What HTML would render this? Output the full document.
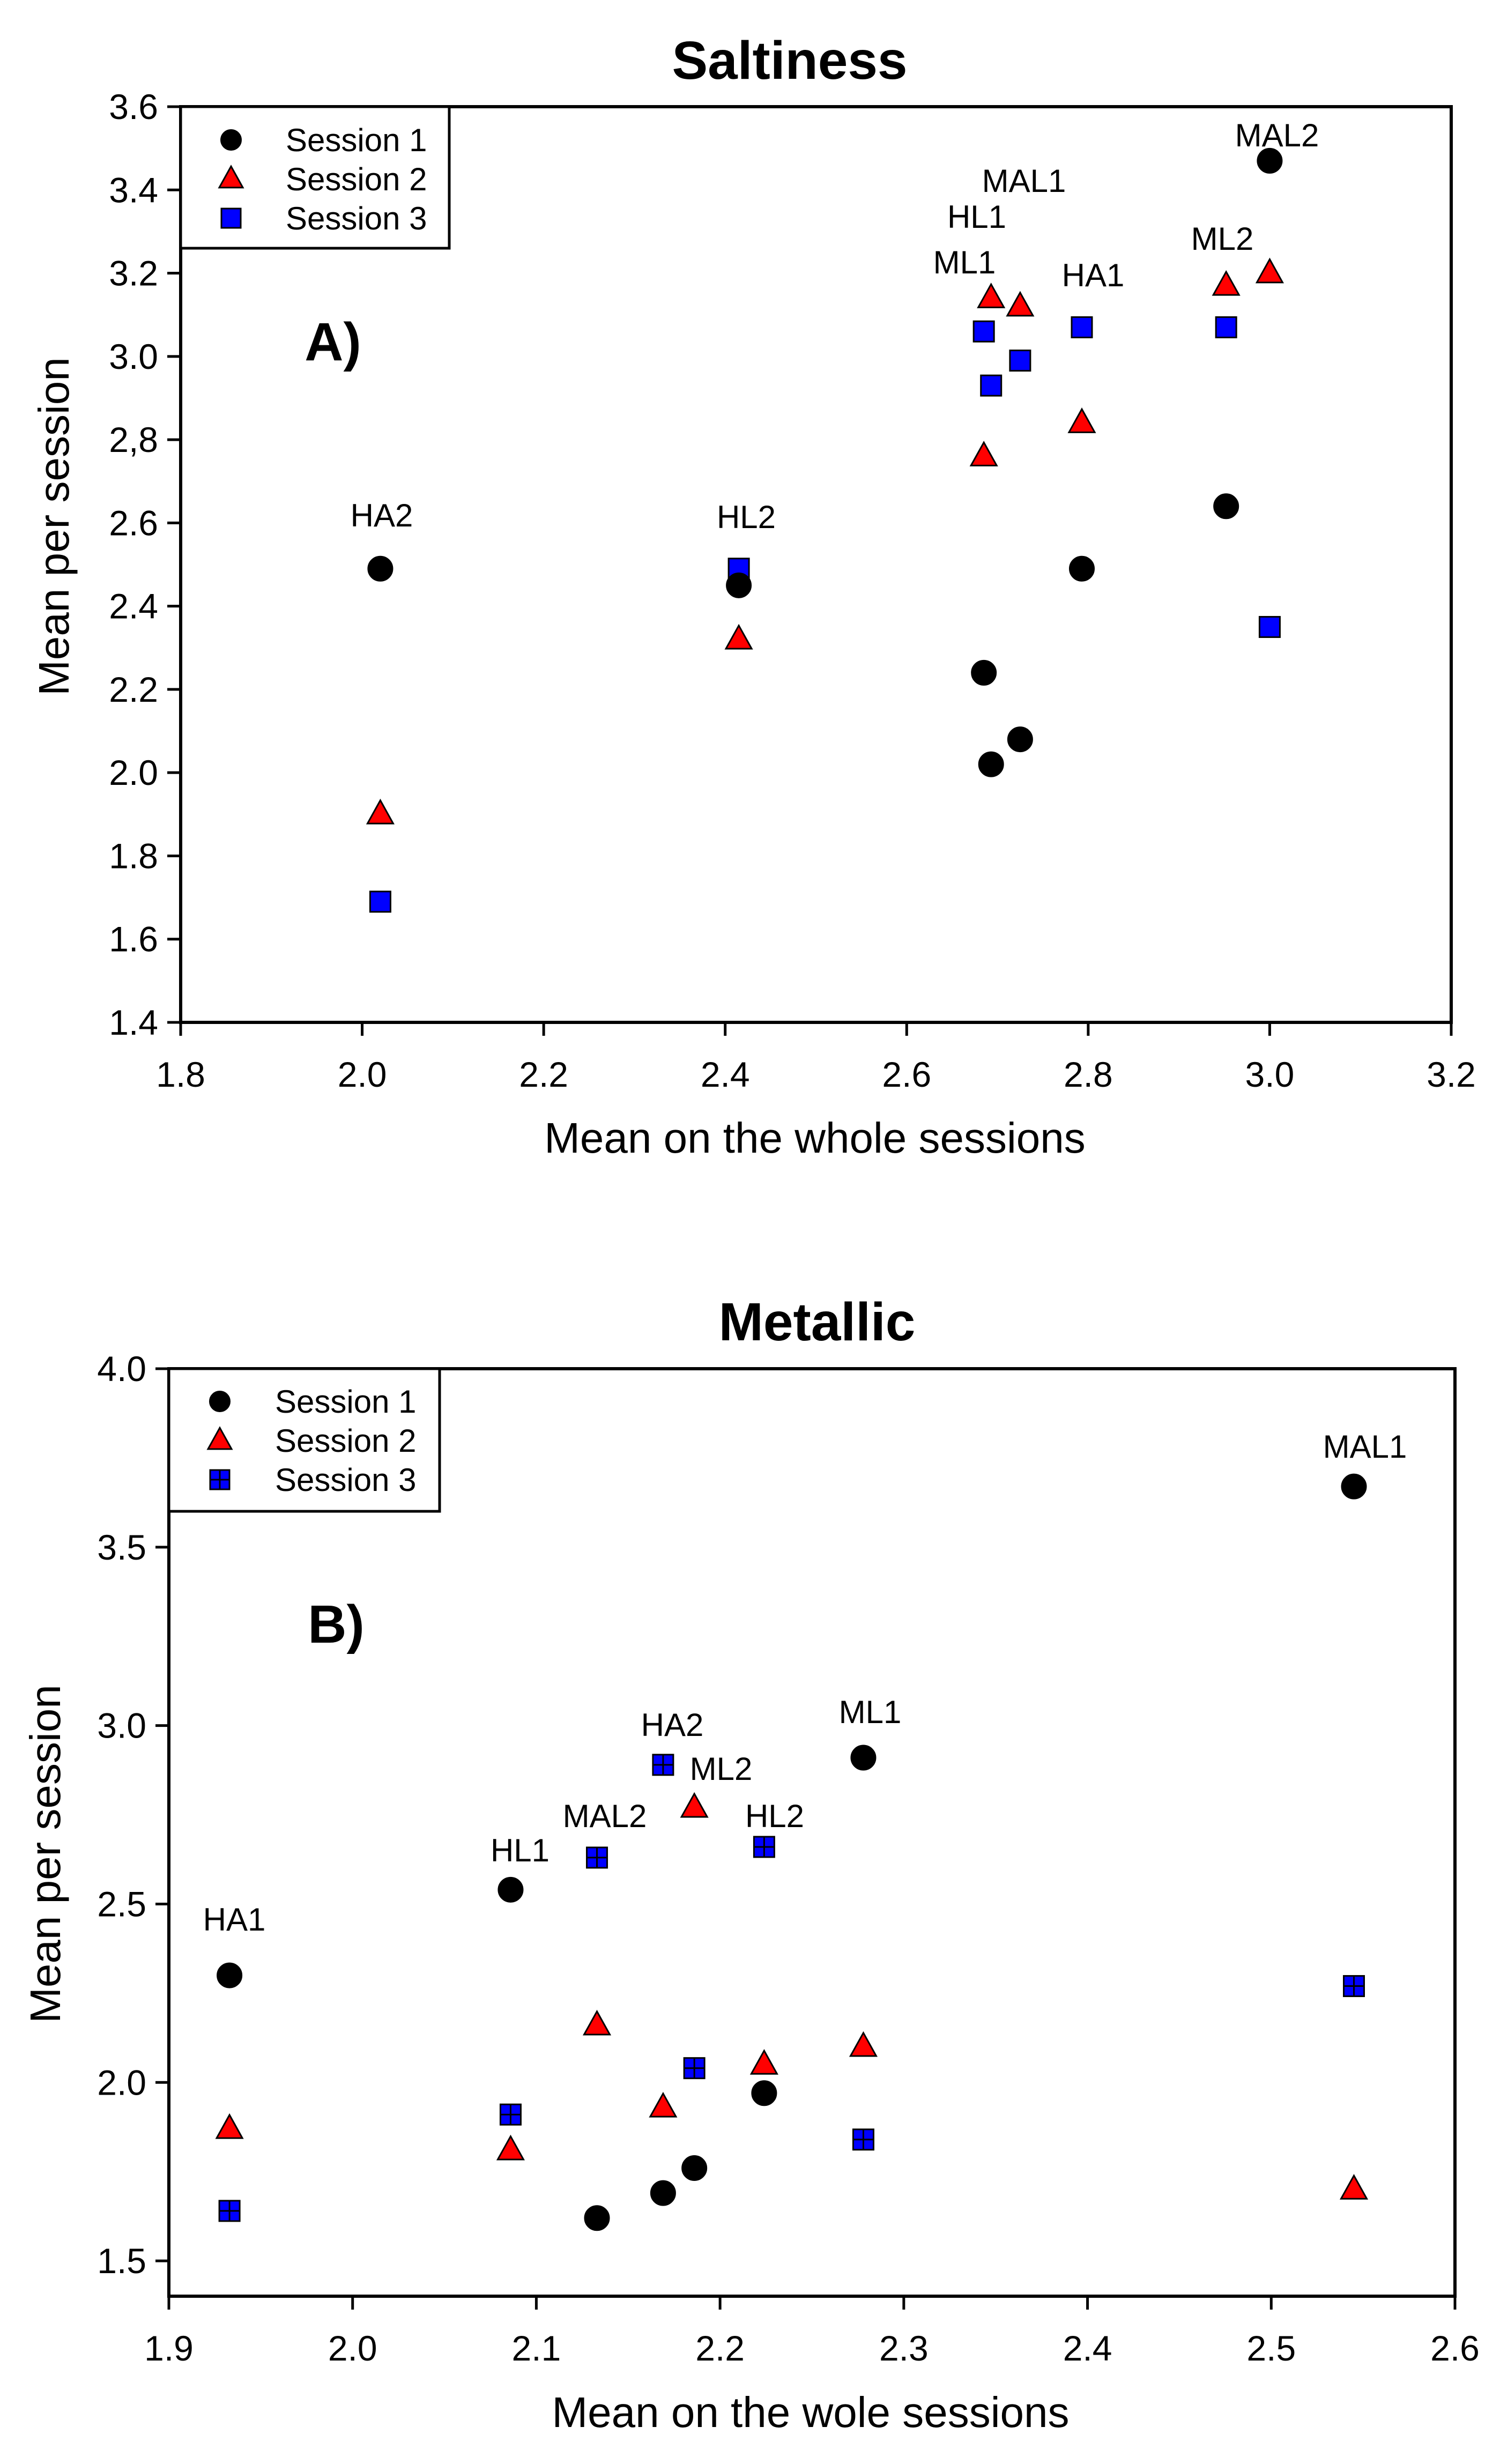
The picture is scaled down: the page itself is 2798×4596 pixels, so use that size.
<!DOCTYPE html>
<html><head><meta charset="utf-8">
<style>
html,body{margin:0;padding:0;background:#fff;}
svg{display:block;font-family:"Liberation Sans",Arial,sans-serif;}
</style></head>
<body>
<svg id="fig" width="2798" height="4596" viewBox="0 0 2798 4596" xmlns="http://www.w3.org/2000/svg">
<rect width="2798" height="4596" fill="#fff"/>
<g id="chartA"></g>
<g id="chartB"></g>
</svg>
<script>
// ---- Saltiness (A) data ----
const aProducts = ["HA2","HL2","ML1","HL1","MAL1","HA1","ML2","MAL2"];
const aMeanX = [2.02,2.415,2.685,2.693,2.725,2.793,2.952,3.0];
const aSession1 = [2.49,2.45,2.24,2.02,2.08,2.49,2.64,3.47];
const aSession2 = [1.90,2.32,2.76,3.14,3.12,2.84,3.17,3.20];
const aSession3 = [1.69,2.49,3.06,2.93,2.99,3.07,3.07,2.35];
const aXTicks = ["1.8","2.0","2.2","2.4","2.6","2.8","3.0","3.2"];
const aYTicks = ["1.4","1.6","1.8","2.0","2.2","2.4","2.6","2,8","3.0","3.2","3.4","3.6"];
// ---- Metallic (B) data ----
const bProducts = ["HA1","HL1","MAL2","HA2","ML2","HL2","ML1","MAL1"];
const bMeanX = [1.933,2.086,2.133,2.169,2.186,2.224,2.278,2.545];
const bSession1 = [2.30,2.54,1.62,1.69,1.76,1.97,2.91,3.67];
const bSession2 = [1.87,1.81,2.16,1.93,2.77,2.05,2.10,1.70];
const bSession3 = [1.64,1.91,2.63,2.89,2.04,2.66,1.84,2.27];
const bXTicks = ["1.9","2.0","2.1","2.2","2.3","2.4","2.5","2.6"];
const bYTicks = ["1.5","2.0","2.5","3.0","3.5","4.0"];

const NS="http://www.w3.org/2000/svg";
function mk(parent,tag,attrs,text){
  const e=document.createElementNS(NS,tag);
  for(const k in attrs) e.setAttribute(k,attrs[k]);
  if(text!==undefined) e.textContent=text;
  parent.appendChild(e);
  return e;
}
function circle(g,cx,cy,r){
  const e=mk(g,"circle",{cx:cx,cy:cy,r:r,fill:"#000",stroke:"#000","stroke-width":2});
  
  
  return e;
}
function tri(g,cx,cy,s){
  const h=s*0.9;
  const e=mk(g,"polygon",{points:`${cx},${cy-h*0.6} ${cx-s/2},${cy+h*0.4} ${cx+s/2},${cy+h*0.4}`,fill:"#f00",stroke:"#000","stroke-width":3});
  
  
  return e;
}
function sq(g,cx,cy,s,grid){
  const e=mk(g,"rect",{x:cx-s/2,y:cy-s/2,width:s,height:s,fill:"#00f",stroke:"#000","stroke-width":3});
  
  
  if(grid){
    const l1=mk(g,"line",{x1:cx,y1:cy-s/2,x2:cx,y2:cy+s/2,stroke:"#000","stroke-width":3});
    
    
    const l2=mk(g,"line",{x1:cx-s/2,y1:cy,x2:cx+s/2,y2:cy,stroke:"#000","stroke-width":3});
    
    
  }
  return e;
}

function drawChart(cfg){
  const g=document.getElementById(cfg.id);
  const X=v=>cfg.L+(v-cfg.xmin)/(cfg.xmax-cfg.xmin)*(cfg.R-cfg.L);
  const Y=v=>cfg.B-(v-cfg.ymin)/(cfg.ymax-cfg.ymin)*(cfg.B-cfg.T);
  const fr=mk(g,"rect",{x:cfg.L,y:cfg.T,width:cfg.R-cfg.L,height:cfg.B-cfg.T,fill:"none",stroke:"#000","stroke-width":6});
  
  
  cfg.xt.forEach(t=>{
    const v=parseFloat(t.replace(",",".")), x=X(v);
    const l=mk(g,"line",{x1:x,y1:cfg.B,x2:x,y2:cfg.B+25,stroke:"#000","stroke-width":5});
    
    
    const tx=mk(g,"text",{x:x,y:cfg.B+120,"font-size":66,"text-anchor":"middle",fill:"#000"},t);
    
    
  });
  cfg.yt.forEach(t=>{
    const v=parseFloat(t.replace(",",".")), y=Y(v);
    const l=mk(g,"line",{x1:cfg.L-25,y1:y,x2:cfg.L,y2:y,stroke:"#000","stroke-width":5});
    
    
    const tx=mk(g,"text",{x:cfg.L-42,y:y+23,"font-size":66,"text-anchor":"end",fill:"#000"},t);
    
    
  });
  for(let i=0;i<cfg.mx.length;i++){
    const x=X(cfg.mx[i]);
    sq(g,x,Y(cfg.s3[i]),38,cfg.grid);
    tri(g,x,Y(cfg.s2[i]),48);
    circle(g,x,Y(cfg.s1[i]),23);
  }
  cfg.labels.forEach(lb=>{
    const t=mk(g,"text",{x:lb[1],y:lb[2]+21,"font-size":60,"text-anchor":"middle",fill:"#000"},lb[0]);
    
    
  });
  const lg=mk(g,"g",{});
  
  
  const lr=mk(lg,"rect",{x:cfg.leg.x,y:cfg.leg.y,width:cfg.leg.w,height:cfg.leg.h,fill:"#fff",stroke:"#000","stroke-width":5});
  
  
  const names=["Session  1","Session  2","Session  3"];
  cfg.leg.rows.forEach((ry,i)=>{
    if(i===0) circle(lg,cfg.leg.sx,ry,19);
    if(i===1) tri(lg,cfg.leg.sx,ry,44);
    if(i===2) sq(lg,cfg.leg.sx,ry,36,cfg.grid);
    const t=mk(lg,"text",{x:cfg.leg.tx,y:ry+21,"font-size":60,fill:"#000","xml:space":"preserve"},names[i]);
    
    
  });
  const tt=mk(g,"text",{x:cfg.title[1],y:cfg.title[2],"font-size":100,"font-weight":"bold","text-anchor":"middle",fill:"#000"},cfg.title[0]);
  
  
  const pl=mk(g,"text",{x:cfg.panel[1],y:cfg.panel[2],"font-size":100,"font-weight":"bold","text-anchor":"middle",fill:"#000"},cfg.panel[0]);
  
  
  const xt=mk(g,"text",{x:cfg.xtitle[1],y:cfg.xtitle[2],"font-size":80,"text-anchor":"middle",fill:"#000"},cfg.xtitle[0]);
  
  
  const yt=mk(g,"text",{x:0,y:0,"font-size":80,"text-anchor":"middle",fill:"#000",transform:`translate(${cfg.ytitle[1]},${cfg.ytitle[2]}) rotate(-90)`},cfg.ytitle[0]);
  
  
}

drawChart({id:"chartA",L:337,R:2707,T:199,B:1907,xmin:1.8,xmax:3.2,ymin:1.4,ymax:3.6,
  xt:aXTicks,yt:aYTicks,mx:aMeanX,s1:aSession1,s2:aSession2,s3:aSession3,grid:false,
  labels:[["HA2",712,961],["HL2",1392,964],["ML1",1799,489],["HL1",1822,404],["MAL1",1910,337],["HA1",2039,513],["ML2",2280,445],["MAL2",2382,252]],
  leg:{x:337,y:199,w:501,h:264,sx:431,tx:533,rows:[261,334,407]},
  title:["Saltiness",1473,147],panel:["A)",621,672],
  xtitle:["Mean on the whole sessions",1520,2150],ytitle:["Mean per session",128,982]});

drawChart({id:"chartB",L:315,R:2714,T:2553,B:4283,xmin:1.9,xmax:2.6,ymin:1.401,ymax:4.0,
  xt:bXTicks,yt:bYTicks,mx:bMeanX,s1:bSession1,s2:bSession2,s3:bSession3,grid:true,
  labels:[["HA1",437,3580],["HL1",970,3451],["MAL2",1128,3387],["HA2",1254,3217],["ML2",1345,3299],["HL2",1445,3387],["ML1",1623,3193],["MAL1",2546,2698]],
  leg:{x:315,y:2553,w:505,h:266,sx:410,tx:513,rows:[2614,2687,2760]},
  title:["Metallic",1524,2500],panel:["B)",627,3064],
  xtitle:["Mean on the wole sessions",1512,4527],ytitle:["Mean per session",112,3458]});
</script>
</body></html>
